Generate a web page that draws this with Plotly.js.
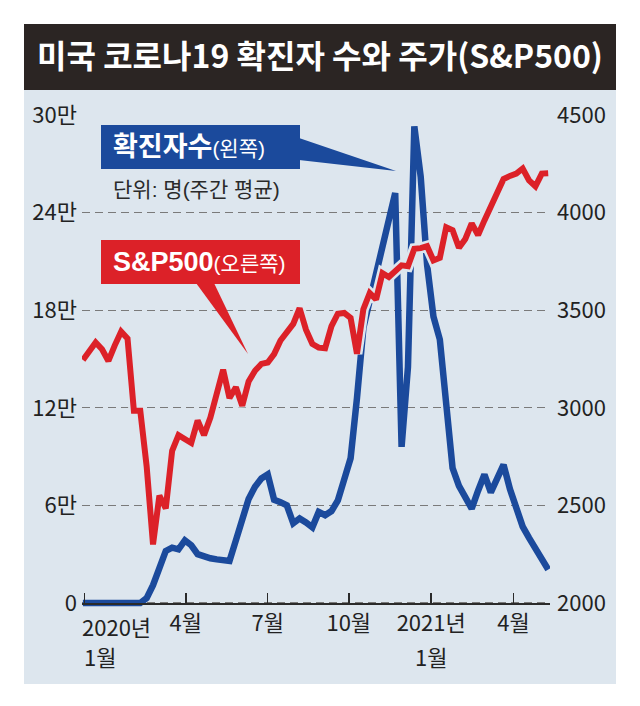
<!DOCTYPE html>
<html><head><meta charset="utf-8">
<script src="https://cdn.plot.ly/plotly-3.0.1.min.js"></script>
<style>html,body{margin:0;padding:0;background:#fff;}#chart{width:640px;height:706px;}</style>
</head><body><div id="chart"></div>
<script>
// weekly points, first Friday of 2020 to end of May 2021
const weekCount = 74;
const dates = [];
for (let i = 0; i < weekCount; i++) {
  dates.push(new Date(Date.UTC(2020, 0, 3 + 7 * i)).toISOString().slice(0, 10));
}
// US COVID-19 confirmed cases, weekly average (persons) – left axis
const cases = [0,0,0,0,0,0,0,0,0,0,
  3000,11000,21500,32000,34000,33000,38500,35500,30000,28500,
  27500,26800,26200,25800,38500,50000,64000,71500,76500,79000,
  63500,62000,60000,49000,52000,49500,46500,56000,54000,56500,
  63000,76000,89000,126000,169000,186000,202000,219000,237000,252000,
  96000,145000,293000,262000,208000,176000,162000,121000,83000,72000,
  65000,58000,69000,79000,68000,77000,85000,70000,59000,47000,
  40000,33000,27000,20500];
// S&P500 – right axis
const sp500 = [3245,3290,3335,3300,3240,3320,3390,3355,2985,2985,
  2700,2300,2550,2485,2780,2860,2840,2820,2935,2860,
  2950,3070,3195,3050,3105,3010,3135,3190,3225,3232,
  3275,3345,3385,3430,3510,3400,3327,3308,3305,3418,
  3482,3486,3460,3277,3505,3588,3555,3690,3670,3700,
  3730,3725,3815,3818,3828,3755,3768,3925,3910,3820,
  3865,3945,3885,3960,4030,4100,4172,4188,4200,4226,
  4165,4135,4200,4202];

const leftTickVals = [0, 60000, 120000, 180000, 240000, 300000];
const leftTickText = ['0', '6만', '12만', '18만', '24만', '30만'];
const rightTickVals = [2000, 2500, 3000, 3500, 4000, 4500];
const xTickVals = ['2020-01-05', '2020-04-25', '2020-07-24', '2020-10-21', '2021-01-19 12:00', '2021-04-20'];
const xTickText = ['', '4월', '7월', '10월', '2021년', '4월'];
const yearLabel2020 = '2020년';
const janLabel = '1월';

const titleText = '미국 코로나19 확진자 수와 주가(S&P500)';
const casesLabel = '<b>확진자수</b><span style="font-size:21px">(왼쪽)</span>';
const unitLabel = '단위: 명(주간 평균)';
const spLabel = '<b>S&P500</b><span style="font-size:21px">(오른쪽)</span>';

const BLUE = '#1b4a9c', RED = '#dc2128', PANEL = '#dde6ee', DARK = '#2b2523';
const NARROW = '"Liberation Sans Narrow", "Arial Narrow", "Noto Sans CJK KR", sans-serif';
const KFONT = '"Liberation Sans", "Noto Sans CJK KR", sans-serif';

const L = 82, R = 550, T = 115, B = 613;
const px = x => (x - L) / (R - L);
const py = y => (B - y) / (B - T);

const traces = [
  {x: dates, y: cases, type: 'scatter', mode: 'lines', yaxis: 'y',
   line: {color: BLUE, width: 6.5}, hoverinfo: 'skip'},
  {x: dates, y: sp500, type: 'scatter', mode: 'lines', yaxis: 'y2',
   line: {color: PANEL, width: 11}, hoverinfo: 'skip'},
  {x: dates, y: sp500, type: 'scatter', mode: 'lines', yaxis: 'y2',
   line: {color: RED, width: 6}, hoverinfo: 'skip'}
];

const tickFont = {family: NARROW, size: 22, color: '#222'};

const layout = {
  width: 640, height: 706,
  margin: {l: L, r: 640 - R, t: T, b: 706 - B, pad: 0},
  paper_bgcolor: '#ffffff', plot_bgcolor: 'rgba(0,0,0,0)',
  showlegend: false,
  title: {text: titleText, x: 0.5, xref: 'container', xanchor: 'center',
          y: 1 - 57 / 706, yref: 'container', yanchor: 'middle',
          font: {family: NARROW, size: 32, color: '#ffffff', weight: 'bold'}},
  xaxis: {type: 'date', range: ['2020-01-02', '2021-05-30'],
          anchor: 'free', position: 10 / (B - T),
          showline: true, linecolor: '#2a2a2a', linewidth: 1.5,
          ticks: 'inside', ticklen: 10, tickwidth: 1.5, tickcolor: '#2a2a2a',
          tickmode: 'array', tickvals: xTickVals, ticktext: xTickText,
          tickfont: tickFont,
          showgrid: false, zeroline: false, fixedrange: true},
  yaxis: {range: [-6148, 300000], tickmode: 'array', tickvals: leftTickVals, ticktext: leftTickText,
          showgrid: true, gridcolor: '#7a7a7a', gridwidth: 1.2, griddash: '8px,5px',
          zeroline: false, showline: false, ticks: '',
          tickfont: tickFont, ticklabelstandoff: 4, fixedrange: true},
  yaxis2: {range: [1948.8, 4500], overlaying: 'y', side: 'right',
           tickmode: 'array', tickvals: rightTickVals,
           showgrid: false, zeroline: false, showline: false, ticks: '',
           tickfont: tickFont, ticklabelstandoff: 6, fixedrange: true},
  shapes: [
    {type: 'rect', xref: 'paper', yref: 'paper', layer: 'below',
     x0: px(24), x1: px(616), y0: py(684), y1: py(90), fillcolor: PANEL, line: {width: 0}},
    {type: 'rect', xref: 'paper', yref: 'paper', layer: 'below',
     x0: px(24), x1: px(616), y0: py(90), y1: py(24), fillcolor: DARK, line: {width: 0}},
    {type: 'rect', xref: 'paper', yref: 'paper',
     x0: px(101), x1: px(300), y0: py(169), y1: py(125), fillcolor: BLUE, line: {width: 0}},
    {type: 'path', xref: 'paper', yref: 'paper',
     path: `M ${px(299)} ${py(138)} L ${px(396)} ${py(171)} L ${px(299)} ${py(160)} Z`,
     fillcolor: BLUE, line: {width: 0}},
    {type: 'rect', xref: 'paper', yref: 'paper',
     x0: px(101), x1: px(300), y0: py(284), y1: py(240), fillcolor: RED, line: {width: 0}},
    {type: 'path', xref: 'paper', yref: 'paper',
     path: `M ${px(196)} ${py(283)} L ${px(248)} ${py(354)} L ${px(214)} ${py(283)} Z`,
     fillcolor: RED, line: {width: 0}}
  ],
  annotations: [
    {text: casesLabel, xref: 'paper', yref: 'paper', x: px(111), y: py(147),
     xanchor: 'left', yanchor: 'middle', showarrow: false,
     font: {family: KFONT, size: 27, color: '#ffffff'}},
    {text: unitLabel, xref: 'paper', yref: 'paper', x: px(111), y: py(189),
     xanchor: 'left', yanchor: 'middle', showarrow: false,
     font: {family: KFONT, size: 21, color: '#2a2a2a'}},
    {text: spLabel, xref: 'paper', yref: 'paper', x: px(111), y: py(262),
     xanchor: 'left', yanchor: 'middle', showarrow: false,
     font: {family: KFONT, size: 27, color: '#ffffff'}},
    {text: yearLabel2020, xref: 'paper', yref: 'paper', x: px(81), y: py(626),
     xanchor: 'left', yanchor: 'middle', showarrow: false, borderpad: 0, font: tickFont},
    {text: janLabel, xref: 'paper', yref: 'paper', x: px(83), y: py(656),
     xanchor: 'left', yanchor: 'middle', showarrow: false, borderpad: 0, font: tickFont},
    {text: janLabel, xref: 'x', yref: 'paper', x: xTickVals[4], y: py(656),
     xanchor: 'center', yanchor: 'middle', showarrow: false, borderpad: 0, font: tickFont}
  ]
};

Plotly.newPlot('chart', traces, layout, {staticPlot: true, displayModeBar: false});
</script>
</body></html>
